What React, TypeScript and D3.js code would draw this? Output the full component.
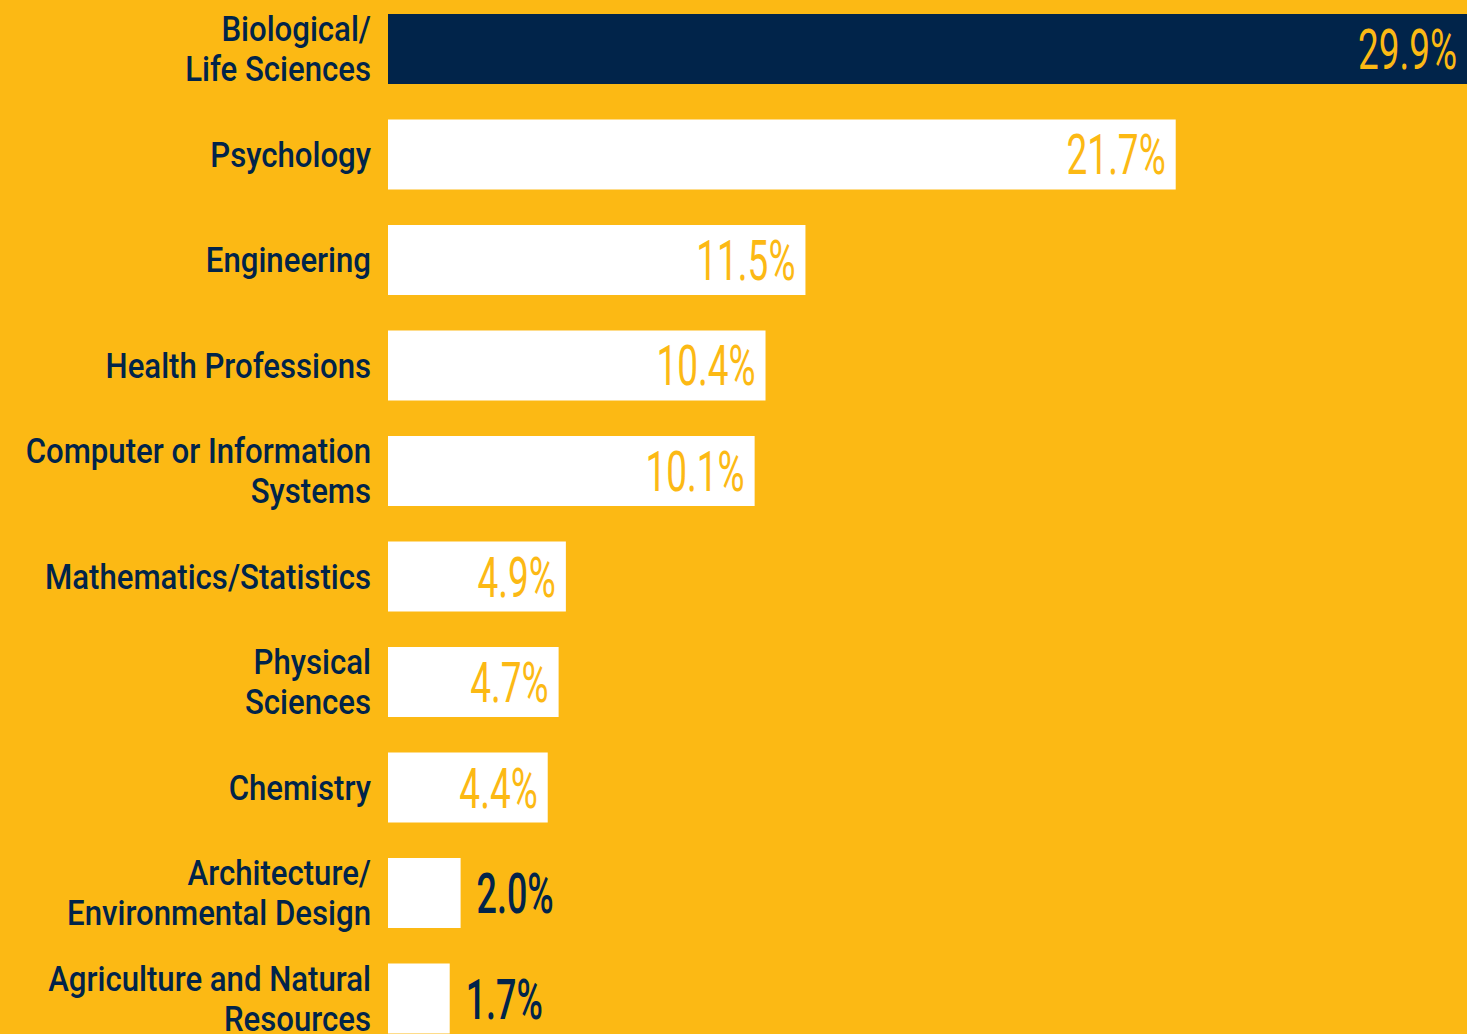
import React from "react";
import * as d3 from "d3";

const categories: string[][] = [
  ["Biological/", "Life Sciences"],
  ["Psychology"],
  ["Engineering"],
  ["Health Professions"],
  ["Computer or Information", "Systems"],
  ["Mathematics/Statistics"],
  ["Physical", "Sciences"],
  ["Chemistry"],
  ["Architecture/", "Environmental Design"],
  ["Agriculture and Natural", "Resources"],
];
const values: number[] = [29.9, 21.7, 11.5, 10.4, 10.1, 4.9, 4.7, 4.4, 2.0, 1.7];
const valueLabels: string[] = ["29.9%", "21.7%", "11.5%", "10.4%", "10.1%", "4.9%", "4.7%", "4.4%", "2.0%", "1.7%"];

const W = 1467;
const H = 1034;
const BG = "#FCB914";
const NAVY = "#01244A";

export default function App() {
  const keys = categories.map((c) => c.join(" "));
  const x = d3.scaleLinear().domain([0, 30]).range([388, 388 + 1089]);
  const y = d3.scaleBand<string>().domain(keys).range([14, 1033.5]).paddingInner(0.3365).paddingOuter(0);
  const bw = y.bandwidth();
  const labelX = 371;
  const lineH = 40;

  return (
    <svg
      width={W}
      height={H}
      style={{ position: "absolute", left: 0, top: 0, display: "block" }}
      xmlns="http://www.w3.org/2000/svg"
    >
      <rect x={0} y={0} width={W} height={H} fill={BG} />
      {values.map((v, i) => {
        const y0 = y(keys[i]) as number;
        const cy = y0 + bw / 2;
        const x1 = x(v);
        const inside = v >= 4;
        const lines = categories[i];
        const capH = 25;
        const blockTop = cy - ((lines.length - 1) * lineH + capH) / 2;
        return (
          <g key={keys[i]}>
            <rect x={x(0)} y={y0} width={x1 - x(0)} height={bw} fill={i === 0 ? NAVY : "#FFFFFF"} />
            <g transform={`translate(${labelX},0) scale(0.89,1)`}>
              {lines.map((ln, j) => (
                <text
                  key={j}
                  x={0}
                  y={blockTop + capH + j * lineH}
                  textAnchor="end"
                  fontFamily="Roboto, 'Noto Sans', sans-serif"
                  fontWeight={500}
                  fontSize={35}
                  fill={NAVY}
                >
                  {ln}
                </text>
              ))}
            </g>
            {inside ? (
              <g transform={`translate(${Math.min(x1, W) - 10},${cy + 20}) scale(0.66,1)`}>
                <text
                  x={0}
                  y={0}
                  textAnchor="end"
                  fontFamily="Roboto, sans-serif"
                  fontWeight={400}
                  fontSize={56}
                  fill={BG}
                >
                  {valueLabels[i]}
                </text>
              </g>
            ) : (
              <g transform={`translate(${x1 + 16},${cy + 20}) scale(0.64,1)`}>
                <text
                  x={0}
                  y={0}
                  textAnchor="start"
                  fontFamily="Roboto, sans-serif"
                  fontWeight={500}
                  fontSize={56}
                  fill={NAVY}
                >
                  {valueLabels[i]}
                </text>
              </g>
            )}
          </g>
        );
      })}
    </svg>
  );
}
